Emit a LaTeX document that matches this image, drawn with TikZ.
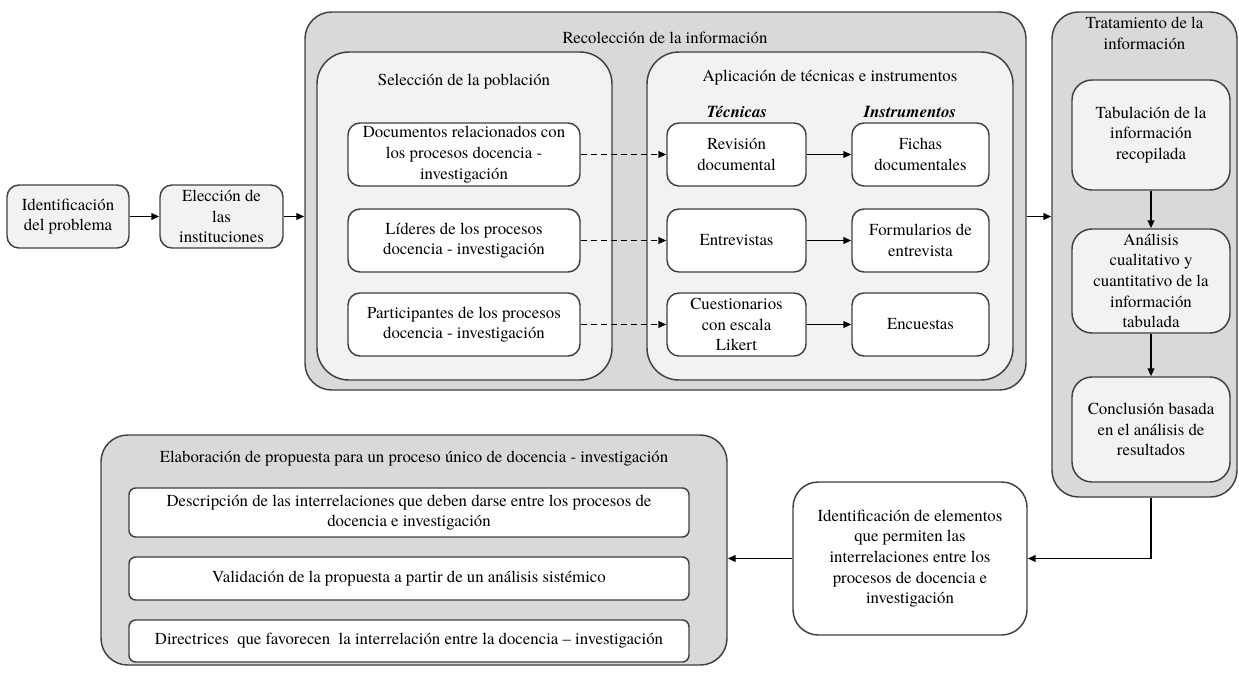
\documentclass[tikz,border=0pt]{standalone}
\usepackage{fontspec}
\setmainfont{texgyretermes}[Extension=.otf, UprightFont=*-regular, BoldFont=*-bold, ItalicFont=*-italic, BoldItalicFont=*-bolditalic]
\usetikzlibrary{arrows.meta}

\definecolor{boxline}{RGB}{64,64,64}
\definecolor{groupfill}{RGB}{217,217,217}
\definecolor{lightfill}{RGB}{242,242,242}

\tikzset{every picture/.style={line width=0.75pt},
  txt/.style={font=\fontsize{12.6}{15.5}\selectfont, align=center, inner sep=0pt},
  group/.style={draw=boxline, fill=groupfill, line width=1.1pt, rounded corners=20pt, inner sep=0pt},
  panel/.style={draw=boxline, fill=lightfill, line width=1.1pt, rounded corners=24pt, inner sep=0pt},
  stepbox/.style={txt, draw=boxline, fill=white, line width=1.1pt, rounded corners=9pt},
  conn/.style={line width=1.4pt, -{Triangle[length=6pt,width=5pt]}},
  dashconn/.style={conn, dash pattern=on 4.5pt off 3pt},
}

\begin{document}
\begin{tikzpicture}[x=0.75pt,y=0.75pt,yscale=-1,xscale=1]
\useasboundingbox (0,0) rectangle (1239,672);

%Rounded Rect: groups
\node[group, minimum width=540.75pt, minimum height=283.5pt] (recol) at (665.5,201) {};
\node[group, minimum width=138.75pt, minimum height=363.75pt] (trat) at (1144.5,254.5) {};
\node[group, minimum width=469.5pt, minimum height=172.5pt] (elab) at (414,550) {};
\node[panel, minimum width=221.25pt, minimum height=246pt] (selec) at (464.5,216) {};
\node[panel, minimum width=274.5pt, minimum height=246pt] (aplic) at (830,216) {};

% Text Node
\node[txt] (recoltitle) at (665,38) {Recolección de la información};
% Text Node
\node[txt] (trattitle) at (1144.5,33.5) {Tratamiento de la\\información};
% Text Node
\node[txt] (elabtitle) at (414,459) {Elaboración de propuesta para un proceso único de docencia - investigación};
% Text Node
\node[txt] (selectitle) at (464,82) {Selección de la población};
% Text Node
\node[txt] (aplictitle) at (830,78) {Aplicación de técnicas e instrumentos};
% Text Node
\node[txt, font=\fontsize{12.6}{15.5}\selectfont\bfseries\itshape] (tecn) at (737,112) {Técnicas};
% Text Node
\node[txt, font=\fontsize{12.6}{15.5}\selectfont\bfseries\itshape] (instr) at (910,112) {Instrumentos};

%Rounded Rect: first steps
\node[stepbox, fill=lightfill, minimum width=91.5pt, minimum height=47.25pt] (probl) at (68,216.5) {Identificación\\del problema};
\node[stepbox, fill=lightfill, minimum width=92.25pt, minimum height=47.25pt] (instit) at (221.5,216.5) {Elección de\\las\\instituciones};

%Rounded Rect: population
\node[stepbox, minimum width=174pt, minimum height=47.25pt] (docs) at (464,154.5) {Documentos relacionados con\\los procesos docencia -\\investigación};
\node[stepbox, minimum width=174pt, minimum height=47.25pt] (lideres) at (464,240.5) {Líderes de los procesos\\docencia - investigación};
\node[stepbox, minimum width=174pt, minimum height=47.25pt] (partic) at (464,324.5) {Participantes de los procesos\\docencia - investigación};

%Rounded Rect: techniques
\node[stepbox, minimum width=104.25pt, minimum height=47.25pt] (revis) at (736.5,154.5) {Revisión\\documental};
\node[stepbox, minimum width=104.25pt, minimum height=47.25pt] (entrev) at (736.5,240.5) {Entrevistas};
\node[stepbox, minimum width=104.25pt, minimum height=47.25pt] (cuest) at (736.5,324.5) {Cuestionarios\\con escala\\Likert};

%Rounded Rect: instruments
\node[stepbox, minimum width=102.75pt, minimum height=47.25pt] (fichas) at (920.5,154.5) {Fichas\\documentales};
\node[stepbox, minimum width=102.75pt, minimum height=47.25pt] (formul) at (920.5,240.5) {Formularios de\\entrevista};
\node[stepbox, minimum width=102.75pt, minimum height=47.25pt] (encues) at (920.5,324.5) {Encuestas};

%Rounded Rect: treatment
\node[stepbox, fill=lightfill, rounded corners=15pt, minimum width=118.5pt, minimum height=82.5pt] (tabul) at (1151,135) {Tabulación de la\\información\\recopilada};
\node[stepbox, fill=lightfill, rounded corners=15pt, minimum width=118.5pt, minimum height=78pt] (anal) at (1151,281) {Análisis\\cualitativo y\\cuantitativo de la\\información\\tabulada};
\node[stepbox, fill=lightfill, rounded corners=15pt, minimum width=118.5pt, minimum height=78.75pt] (concl) at (1151,429.5) {Conclusión basada\\en el análisis de\\resultados};

%Rounded Rect: elements
\node[stepbox, rounded corners=19pt, minimum width=175.5pt, minimum height=114.75pt] (idel) at (910,558.5) {Identificación de elementos\\que permiten las\\interrelaciones entre los\\procesos de docencia e\\investigación};

%Rounded Rect: proposal
\node[stepbox, rounded corners=5pt, minimum width=420pt, minimum height=36.75pt] (descr) at (409,512.5) {Descripción de las interrelaciones que deben darse entre los procesos de\\docencia e investigación};
\node[stepbox, rounded corners=5pt, minimum width=420pt, minimum height=32.25pt] (valid) at (409,578.5) {Validación de la propuesta a partir de un análisis sistémico};
\node[stepbox, rounded corners=5pt, minimum width=420pt, minimum height=31.5pt] (direc) at (409,641) {Directrices\ \ que favorecen\ \ la interrelación entre la docencia – investigación};

%Straight Lines
\draw[conn] (probl) -- (instit);
\draw[conn] (instit.east) -- (recol.west |- instit.east);
\foreach \a/\b in {docs/revis, lideres/entrev, partic/cuest}
  \draw[dashconn] (\a) -- (\b);
\foreach \a/\b in {revis/fichas, entrev/formul, cuest/encues}
  \draw[conn] (\a) -- (\b);
\draw[conn] (recol.east |- instit.east) -- (trat.west |- instit.east);
\draw[conn] (tabul) -- (anal);
\draw[conn] (anal) -- (concl);
\draw[conn] (trat.south -| concl) |- (idel.east);
\draw[conn] (idel.west) -- (elab.east |- idel.west);

\end{tikzpicture}
\end{document}
